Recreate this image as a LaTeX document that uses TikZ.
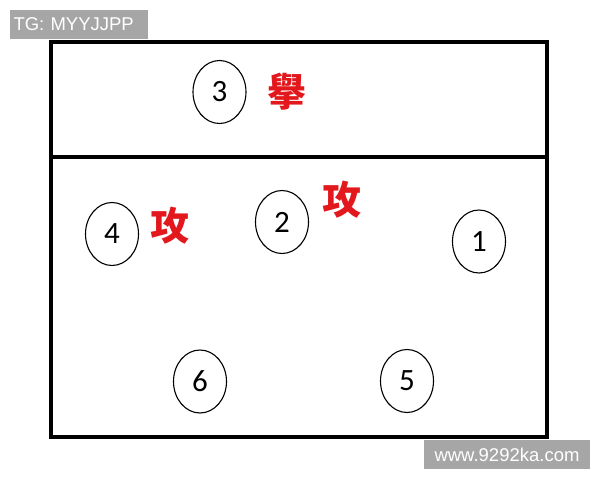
\documentclass[tikz,border=0pt]{standalone}
\usepackage{fontspec}
\usetikzlibrary{shapes.geometric}
\setmainfont{Carlito}
\newfontfamily\cjk{Noto Sans CJK TC}[BoldFont={Noto Sans CJK TC Black}]
\newfontfamily\wmfont{Liberation Sans}
\definecolor{attackred}{RGB}{226,24,28}
\definecolor{markgray}{RGB}{166,166,166}
\begin{document}
\begin{tikzpicture}[x=1pt, y=-1pt,
	player/.style={draw, ellipse, line width=1.1pt, minimum width=53pt, minimum height=63pt, inner sep=0pt, font=\fontsize{31}{31}\selectfont},
	role/.style={text=attackred, inner sep=0pt, font=\cjk\bfseries\fontsize{39}{39}\selectfont},
	watermark/.style={fill=markgray, text=white, inner sep=0pt, font=\wmfont\fontsize{18.5}{18.5}\selectfont}]
	\useasboundingbox (0,0) rectangle (600,480);
	% court
	\draw[line width=4pt] (51,42) rectangle (547,437);
	\draw[line width=4pt] (51,156.5)--(547,156.5);
	% players
	\node[player] (p3) at (219.5,92) {3};
	\node[player] (p4) at (112,234) {4};
	\node[player] (p2) at (282,222) {2};
	\node[player] (p1) at (479,241.5) {1};
	\node[player] (p6) at (200,381.5) {6};
	\node[player] (p5) at (407,381) {5};
	% roles
	\node[role] (setter) at (287,92) {擧};
	\node[role] (atk4) at (170,225.5) {攻};
	\node[role] (atk2) at (342,199.5) {攻};
	% watermarks
	\node[watermark, minimum width=138pt, minimum height=29pt, text width=131pt] (tg) at (79,24.5) {TG: MYYJJPP};
	\node[watermark, minimum width=166pt, minimum height=29pt] (site) at (507,454.5) {www.9292ka.com};
\end{tikzpicture}
\end{document}
